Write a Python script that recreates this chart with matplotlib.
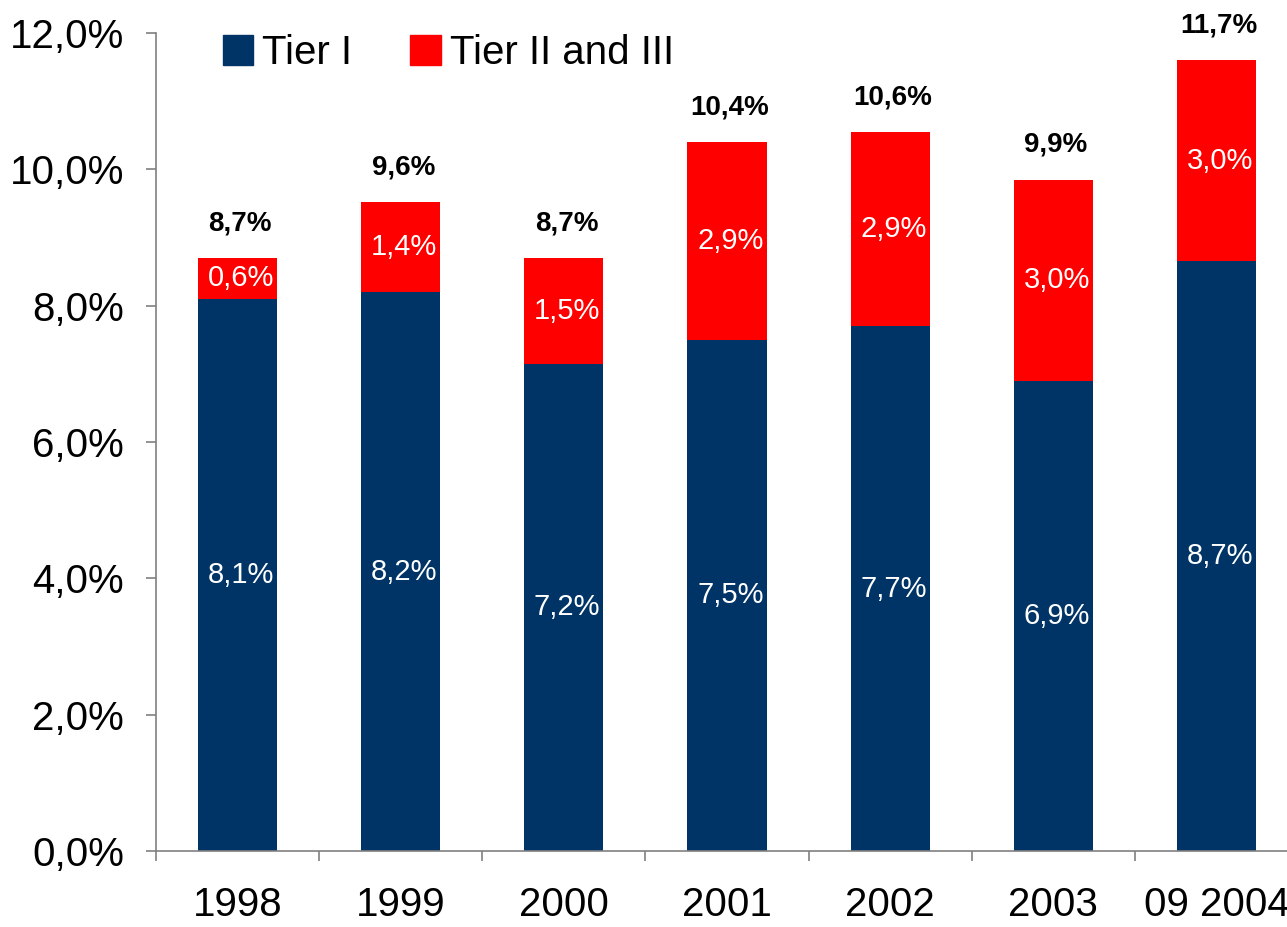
import matplotlib
matplotlib.use("Agg")
import matplotlib.pyplot as plt
from matplotlib.patches import Patch
from matplotlib.ticker import FuncFormatter

years = ["1998", "1999", "2000", "2001", "2002", "2003", "09 2004"]
tier1 = [8.1, 8.2, 7.15, 7.5, 7.7, 6.9, 8.65]
tier2 = [0.6, 1.32, 1.55, 2.9, 2.85, 2.95, 2.95]
tier1_labels = ["8,1%", "8,2%", "7,2%", "7,5%", "7,7%", "6,9%", "8,7%"]
tier2_labels = ["0,6%", "1,4%", "1,5%", "2,9%", "2,9%", "3,0%", "3,0%"]
total_labels = ["8,7%", "9,6%", "8,7%", "10,4%", "10,6%", "9,9%", "11,7%"]

navy = "#003366"
red = "#FF0000"
grey = "#808080"

plt.rcParams["font.family"] = ["Liberation Sans", "DejaVu Sans"]

fig = plt.figure(figsize=(12.87, 9.27), dpi=100)
ax = fig.add_axes([0.1212, 0.0820, 0.8874, 0.8824])

x = list(range(len(years)))
ax.bar(x, tier1, width=0.485, color=navy, label="Tier I")
ax.bar(x, tier2, width=0.485, bottom=tier1, color=red, label="Tier II and III")

# white labels inside the segments, bold totals above the stacks
for i in x:
    ax.text(i + 0.02, tier1[i] / 2, tier1_labels[i], color="white",
            fontsize=21, ha="center", va="center")
    ax.text(i + 0.02, tier1[i] + tier2[i] / 2, tier2_labels[i], color="white",
            fontsize=21, ha="center", va="center")
    ax.annotate(total_labels[i], (i, tier1[i] + tier2[i]), xytext=(2, 25),
                textcoords="offset points", ha="center", va="center",
                fontsize=20, fontweight="bold", color="black")

ax.set_xlim(-0.5, 6.5)
ax.set_ylim(0, 12)
ax.set_yticks([0, 2, 4, 6, 8, 10, 12])
ax.yaxis.set_major_formatter(FuncFormatter(lambda v, p: f"{v:.1f}%".replace(".", ",")))
ax.tick_params(axis="y", direction="out", length=7, width=1.2, color=grey,
               labelsize=29, pad=16)

ax.set_xticks([i - 0.5 for i in range(len(years) + 1)])
ax.set_xticklabels([])
ax.set_xticks(x, minor=True)
ax.set_xticklabels(years, minor=True)
ax.tick_params(axis="x", which="major", direction="out", length=7, width=1.2, color=grey)
ax.tick_params(axis="x", which="minor", length=0, labelsize=29, pad=25)

for s in ["top", "right"]:
    ax.spines[s].set_visible(False)
for s in ["left", "bottom"]:
    ax.spines[s].set_color(grey)
    ax.spines[s].set_linewidth(1.2)

handles = [Patch(color=navy, label="Tier I"), Patch(color=red, label="Tier II and III")]
ax.legend(handles=handles, loc="center left", bbox_to_anchor=(0.0587, 0.9756),
          ncol=2, frameon=False, fontsize=29, handlelength=0.75, handleheight=0.75,
          handletextpad=0.22, columnspacing=1.45, borderpad=0, borderaxespad=0)

fig.savefig("out.png", dpi=100)
